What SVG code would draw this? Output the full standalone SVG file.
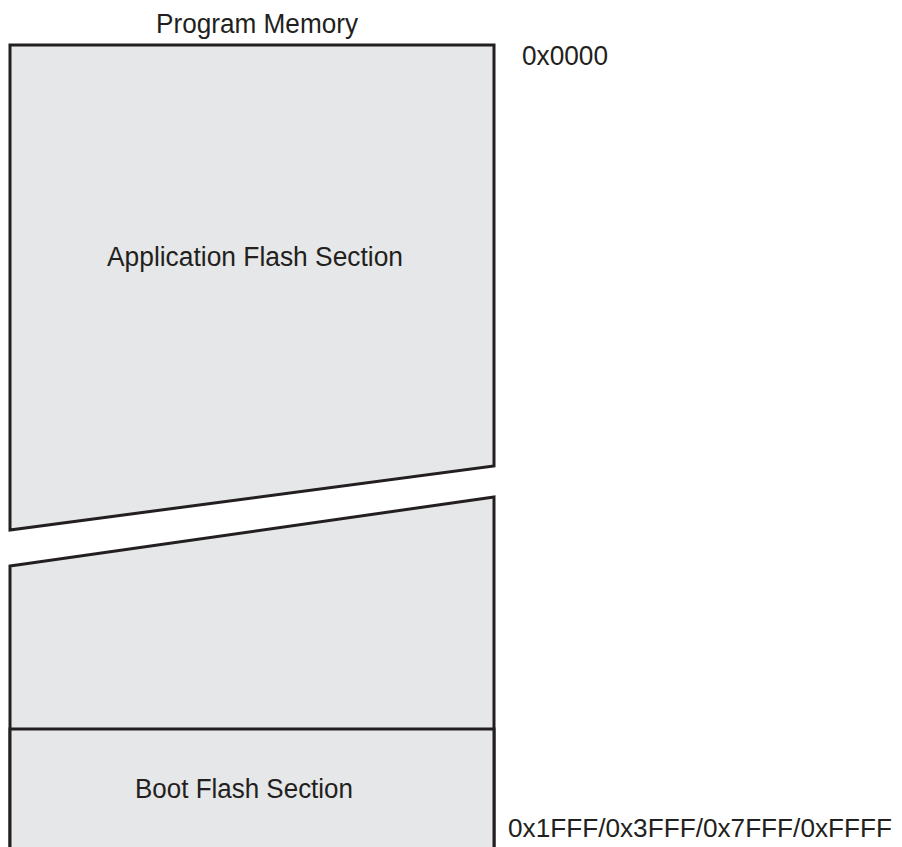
<svg xmlns="http://www.w3.org/2000/svg" width="902" height="847" viewBox="0 0 902 847">
<style>
.blk{fill:#e6e7e8;stroke:#231f20;stroke-width:3;stroke-linejoin:miter}
.t{font-family:"Liberation Sans",Arial,sans-serif;font-size:27px;fill:#231f20}
</style>
<rect width="902" height="847" fill="#ffffff"/>
<g id="label-title"><text class="t" x="156" y="33" textLength="202" lengthAdjust="spacingAndGlyphs">Program Memory</text></g>
<g id="app-section">
<polygon class="blk" points="10,45 494,45 494,466 10,530"/>
<text class="t" x="107" y="266" textLength="296" lengthAdjust="spacingAndGlyphs">Application Flash Section</text>
</g>
<g id="lower-section">
<polygon class="blk" points="10,566 494,497 494,852 10,852"/>
</g>
<g id="boot-section">
<rect class="blk" x="10" y="729" width="484" height="123"/>
<text class="t" x="135" y="798" textLength="218" lengthAdjust="spacingAndGlyphs">Boot Flash Section</text>
</g>
<g id="addr-start"><text class="t" x="522" y="65" textLength="86" lengthAdjust="spacingAndGlyphs">0x0000</text></g>
<g id="addr-end"><text class="t" x="508" y="837" style="font-size:26px" textLength="384" lengthAdjust="spacingAndGlyphs">0x1FFF/0x3FFF/0x7FFF/0xFFFF</text></g>
<g id="connectors"></g>
</svg>
